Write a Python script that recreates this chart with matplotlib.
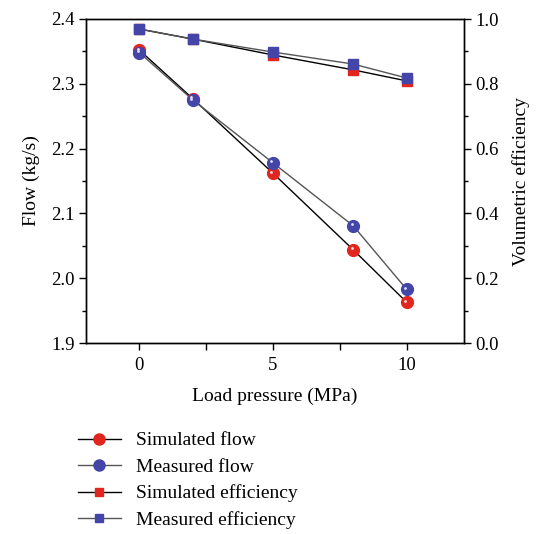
import matplotlib
matplotlib.use("Agg")
import matplotlib.pyplot as plt
import matplotlib.transforms as mtrans
from matplotlib.ticker import MultipleLocator, FixedLocator
from matplotlib.lines import Line2D

plt.rcParams['font.family'] = ['Liberation Serif', 'DejaVu Serif']

pressure = [0, 2, 5, 8, 10]
sim_flow = [2.352, 2.277, 2.162, 2.044, 1.963]
meas_flow = [2.348, 2.275, 2.178, 2.081, 1.983]
sim_eff = [0.969, 0.938, 0.889, 0.843, 0.809]
meas_eff = [0.969, 0.938, 0.898, 0.861, 0.818]

red = '#e0261f'
blue = '#4346a8'

fig = plt.figure(figsize=(5.42, 5.34), dpi=100)
ax = fig.add_axes([86/542, 1-343/534, (464-86)/542, (343-19)/534])
ax2 = ax.twinx()

hl = ax.transData + mtrans.ScaledTranslation(-1.5/100, 1.5/100, fig.dpi_scale_trans)

# flow lines
ax.plot(pressure, sim_flow, color='black', lw=1.0, zorder=2)
ax.plot(pressure, meas_flow, color='#555555', lw=1.0, zorder=2)
ax.plot(pressure, sim_flow, 'o', ms=8.5, color=red, mec=red, zorder=3)
ax.plot(pressure, meas_flow, 'o', ms=8.5, color=blue, mec=blue, zorder=3)
ax.plot(pressure, sim_flow, 'o', ms=2, color='#ffe0e0', mec='none', zorder=4, transform=hl)
ax.plot(pressure, meas_flow, 'o', ms=2, color='#e0e0ff', mec='none', zorder=4, transform=hl)

# efficiency
ax2.plot(pressure, sim_eff, color='black', lw=1.0, zorder=2)
ax2.plot(pressure, meas_eff, color='#555555', lw=1.0, zorder=2)
ax2.plot(pressure, sim_eff, 's', ms=7, color=red, mec=red, zorder=3)
ax2.plot(pressure, meas_eff, 's', ms=6.5, color=blue, mec=blue, zorder=3)

ax.set_xlim(-2, 12.15)
ax.set_ylim(1.9, 2.4)
ax2.set_ylim(0, 1.0)

ax.xaxis.set_major_locator(FixedLocator([0, 5, 10]))
ax.xaxis.set_minor_locator(FixedLocator([2.5, 7.5]))
ax.yaxis.set_major_locator(MultipleLocator(0.1))
ax.yaxis.set_minor_locator(MultipleLocator(0.05))
ax2.yaxis.set_major_locator(MultipleLocator(0.2))
ax2.yaxis.set_minor_locator(MultipleLocator(0.1))
ax.set_yticklabels(['%.1f' % v for v in ax.get_yticks()])
ax2.set_yticklabels(['%.1f' % v for v in ax2.get_yticks()])

for a in (ax, ax2):
    a.tick_params(which='major', direction='out', length=5, width=1, labelsize=13.5, pad=3)
    a.tick_params(which='minor', direction='out', length=3, width=1)
    for s in a.spines.values():
        s.set_linewidth(1.0)
ax.tick_params(axis='x', which='minor', length=5)
ax.tick_params(axis='x', which='major', pad=5)

ax.set_xlabel('Load pressure (MPa)', fontsize=14, labelpad=10)
ax.set_ylabel('Flow (kg/s)', fontsize=14, labelpad=8)
ax2.set_ylabel('Volumetric efficiency', fontsize=14, labelpad=10)

handles = [
    Line2D([], [], color='black', lw=1, marker='o', ms=8, mfc=red, mec=red),
    Line2D([], [], color='#555555', lw=1, marker='o', ms=8, mfc=blue, mec=blue),
    Line2D([], [], color='black', lw=1, marker='s', ms=6, mfc=red, mec=red),
    Line2D([], [], color='#555555', lw=1, marker='s', ms=6, mfc=blue, mec=blue),
]
labels = ['Simulated flow', 'Measured flow', 'Simulated efficiency', 'Measured efficiency']
fig.legend(handles, labels, loc='upper left', bbox_to_anchor=(70/542, 1-424/534),
           frameon=False, fontsize=14, handlelength=2.2, labelspacing=0.45,
           handletextpad=0.8, borderaxespad=0)

fig.savefig('out.png', dpi=100)
